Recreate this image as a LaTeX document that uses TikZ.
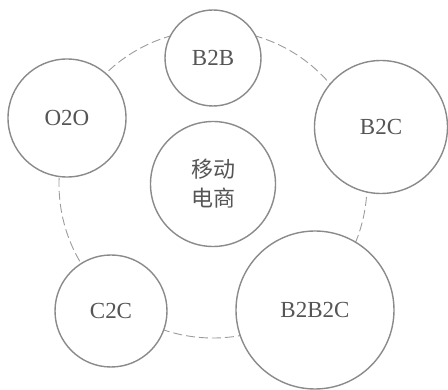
\documentclass[tikz,border=0pt]{standalone}
\usepackage{fontspec}
\setmainfont{Liberation Serif}
\newfontfamily\cjk{Noto Sans CJK SC}
\definecolor{linegray}{HTML}{8A8A8A}
\definecolor{textgray}{HTML}{555555}
\begin{document}
\begin{tikzpicture}[x=1pt,y=-1pt,
  bub/.style={circle,draw=linegray,line width=1.4pt,fill=white,inner sep=0pt,
    text=textgray,font=\fontsize{23}{28}\selectfont,align=center}]
\useasboundingbox (0,0) rectangle (448,390);
\coordinate (o) at (213,184);
\draw[linegray!85,line width=0.9pt,dash pattern=on 9pt off 4pt] (o) circle[radius=154];
\node[bub,minimum size=96pt] (b2b) at (213,58) {B2B};
\node[bub,minimum size=118pt] (o2o) at (67,118) {O2O};
\node[bub,minimum size=133pt] (b2c) at (381,127) {B2C};
\node[bub,minimum size=125pt,font=\cjk\fontsize{22}{29}\selectfont] (mc) at (o) {移动\\电商};
\node[bub,minimum size=112pt] (c2c) at (111,311) {C2C};
\node[bub,minimum size=158pt] (b2b2c) at (315,310) {B2B2C};
\end{tikzpicture}
\end{document}
